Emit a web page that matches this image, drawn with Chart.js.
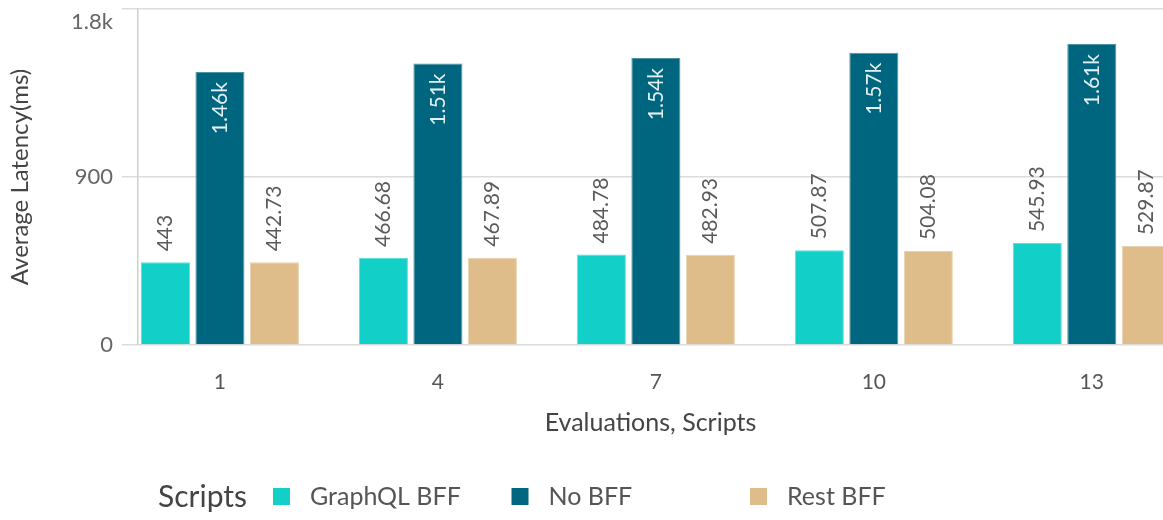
<!DOCTYPE html>
<html>
<head>
<meta charset="utf-8">
<script src="https://cdn.jsdelivr.net/npm/chart.js@4.4.0/dist/chart.umd.min.js"></script>
<style>
  html, body { margin: 0; padding: 0; background: #fff; }
  #wrap { width: 1163px; height: 520px; }
</style>
</head>
<body>
<div id="wrap"><canvas id="c" width="1163" height="520"></canvas></div>
<script>
// Evaluation points on the x axis
const categories = [1, 4, 7, 10, 13];
// Average latency per approach (ms)
const graphqlBff = [443, 466.68, 484.78, 507.87, 545.93];
const noBff = [1462, 1508, 1537, 1566, 1612];
const restBff = [442.73, 467.89, 482.93, 504.08, 529.87];
// Axis ticks
const yTicks = [0, 900, 1800];
const seriesNames = ['GraphQL BFF', 'No BFF', 'Rest BFF'];
const seriesColors = ['#12CFC7', '#006680', '#DFBD8B'];
const seriesEdges = ['#5fe0da', '#4d94a6', '#ead2ae'];

const FONT = 'Lato, "Source Sans Pro", "Noto Sans", sans-serif';

function fmt(v) {
  return v >= 1000 ? (v / 1000).toFixed(2) + 'k' : String(v);
}
function fmtTick(v) {
  return v >= 1000 ? (v / 1000) + 'k' : String(v);
}

const toPoints = arr => arr.map((v, i) => ({ x: categories[i], y: v }));

// Rotated value labels above short bars, inside the top of tall bars
const valueLabels = {
  id: 'valueLabels',
  afterDatasetsDraw(chart) {
    const ctx = chart.ctx;
    ctx.save();
    ctx.font = '21px ' + FONT;
    ctx.textBaseline = 'middle';
    chart.data.datasets.forEach((ds, di) => {
      const meta = chart.getDatasetMeta(di);
      meta.data.forEach((bar, i) => {
        const v = ds.data[i].y;
        const txt = fmt(v);
        const h = bar.base - bar.y;
        ctx.save();
        ctx.translate(bar.x, bar.y);
        ctx.rotate(-Math.PI / 2);
        if (h > 200) {
          ctx.fillStyle = '#e4f1f4';
          ctx.textAlign = 'right';
          ctx.fillText(txt, -10, 0);
        } else {
          ctx.fillStyle = '#5a5a5a';
          ctx.textAlign = 'left';
          ctx.fillText(txt, 11, 0);
        }
        ctx.restore();
      });
    });
    ctx.restore();
  }
};

// Inline legend with a leading title
const inlineLegend = {
  id: 'inlineLegend',
  afterDraw(chart) {
    const ctx = chart.ctx;
    const y = 497;
    ctx.save();
    ctx.textBaseline = 'middle';
    ctx.textAlign = 'left';
    ctx.fillStyle = '#444';
    ctx.font = '30px ' + FONT;
    ctx.fillText('Scripts', 158, y);
    ctx.font = '25px ' + FONT;
    chart.data.datasets.forEach((ds, i) => {
      const bx = 273 + i * 238.5;
      ctx.fillStyle = ds.backgroundColor;
      ctx.fillRect(bx, y - 9, 17, 17);
      ctx.fillStyle = '#555';
      ctx.fillText(ds.label, bx + 37, y);
    });
    ctx.restore();
  }
};

new Chart(document.getElementById('c'), {
  type: 'bar',
  data: {
    datasets: seriesNames.map((name, i) => ({
      label: name,
      data: toPoints([graphqlBff, noBff, restBff][i]),
      backgroundColor: seriesColors[i],
      borderColor: seriesEdges[i],
      borderWidth: 1
    }))
  },
  options: {
    responsive: false,
    animation: false,
    devicePixelRatio: 1,
    categoryPercentage: 0.75,
    barPercentage: 0.9,
    layout: { padding: { top: 9, right: 0, bottom: 75, left: 0 } },
    plugins: {
      legend: { display: false },
      tooltip: { enabled: false }
    },
    scales: {
      x: {
        type: 'linear',
        offset: false,
        min: -0.128,
        max: 13.98,
        afterBuildTicks: s => { s.ticks = categories.map(v => ({ value: v })); },
        afterFit: s => { s.height = 100; s.paddingLeft = 0; s.paddingRight = 0; },
        grid: { display: false },
        border: { display: false },
        ticks: {
          color: '#555',
          font: { family: FONT, size: 21 },
          padding: 17,
          autoSkip: false,
          maxRotation: 0
        },
        title: {
          display: true,
          text: 'Evaluations, Scripts',
          color: '#444',
          font: { family: FONT, size: 25 },
          padding: { top: 0, bottom: 7 }
        }
      },
      y: {
        min: 0,
        max: 1800,
        afterBuildTicks: s => { s.ticks = yTicks.map(v => ({ value: v })); },
        afterFit: s => { s.width = 138; s.paddingTop = 0; s.paddingBottom = 0; },
        grid: { color: '#dcdcdc', lineWidth: 1.5, tickLength: 16 },
        border: { display: true, color: '#cfcfcf', width: 1.5 },
        ticks: {
          color: '#666',
          font: { family: FONT, size: 22 },
          padding: 9,
          // the top label sits just under its gridline
          callback: v => (v === yTicks[yTicks.length - 1] ? ['', fmtTick(v)] : fmtTick(v))
        },
        title: {
          display: true,
          text: 'Average Latency(ms)',
          color: '#444',
          font: { family: FONT, size: 24 },
          padding: { top: 6, bottom: 0 }
        }
      }
    }
  },
  plugins: [valueLabels, inlineLegend]
});
</script>
</body>
</html>
